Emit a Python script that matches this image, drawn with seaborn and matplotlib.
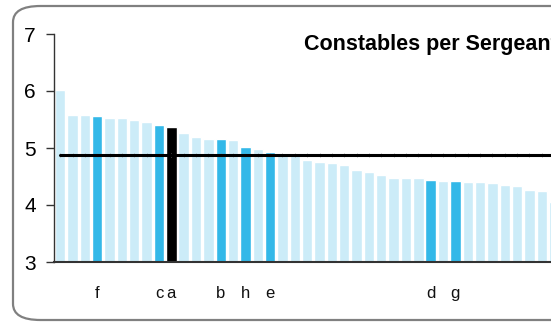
import numpy as np
import pandas as pd
import matplotlib.pyplot as plt
import seaborn as sns
from matplotlib.patches import FancyBboxPatch

# --- data ---
values = [6.02, 5.58, 5.58, 5.56, 5.53, 5.53, 5.50, 5.46, 5.40, 5.37,
          5.26, 5.19, 5.16, 5.16, 5.14, 5.02, 4.98, 4.93, 4.90, 4.89,
          4.79, 4.75, 4.74, 4.70, 4.61, 4.58, 4.53, 4.47, 4.47, 4.47,
          4.44, 4.42, 4.42, 4.40, 4.40, 4.39, 4.35, 4.33, 4.26, 4.25,
          4.05]
labels = ['', '', '', 'f', '', '', '', '', 'c', 'a',
          '', '', '', 'b', '', 'h', '', 'e', '', '',
          '', '', '', '', '', '', '', '', '', '',
          'd', '', 'g', '', '', '', '', '', '', '',
          '']
group = ['other'] * 41
for i in [3, 8, 13, 15, 17, 30, 32]:
    group[i] = 'highlight'
group[9] = 'selected'
average = 4.877
title = 'Constables per Sergeant'

df = pd.DataFrame({'pos': range(len(values)), 'value': values, 'group': group})
colors = {'other': '#CCECF8', 'highlight': '#33B8E8', 'selected': '#000000'}

sns.set_style('white')
plt.rcParams['font.family'] = ['Liberation Sans', 'DejaVu Sans']
plt.rcParams['text.color'] = 'black'

W, H = 551, 323
fig = plt.figure(figsize=(W / 100, H / 100), dpi=100)

# rounded frame, runs off the right edge like the original
frame = FancyBboxPatch((13 / W, 1 - 320 / H), 620 / W, 314 / H,
                       boxstyle='round,pad=0,rounding_size=0.05',
                       transform=fig.transFigure, facecolor='white',
                       edgecolor='#808080', linewidth=1.6, zorder=-1)
fig.patches.append(frame)

step = 12.35
ax = fig.add_axes([54 / W, 1 - 262 / H, len(values) * step / W, 228 / H])
ax.set_zorder(2)
ax.patch.set_alpha(0)

sns.barplot(data=df, x='pos', y='value', hue='group', palette=colors,
            saturation=1, dodge=False, width=0.84, legend=False, ax=ax,
            zorder=2)

# average line with faint marks at each bar
ax.plot(df['pos'], [average] * len(values), color='black', lw=2.2, zorder=3)
ax.plot(df['pos'], [average] * len(values), ls='none', marker='|',
        ms=3, mew=0.5, color='#999999', zorder=2.5)

ax.set_ylim(3, 7)
ax.set_xlim(-0.5, len(values) - 0.5)
ax.set_yticks([3, 4, 5, 6, 7])
ax.set_xticks(range(len(values)))
ax.set_xticklabels(labels)
ax.tick_params(axis='y', length=6, width=1, color='#333333', pad=7,
               labelsize=15, left=True, labelcolor='black')
ax.tick_params(axis='x', length=0, pad=17, labelsize=12, labelcolor='#111111')
ax.set_xlabel('')
ax.set_ylabel('')
for side in ['top', 'right']:
    ax.spines[side].set_visible(False)
ax.spines['left'].set_color('#333333')
ax.spines['left'].set_linewidth(1)
ax.spines['bottom'].set_color('#333333')
ax.spines['bottom'].set_linewidth(1.5)
ax.spines['bottom'].set_zorder(5)

fig.text(304 / W, 1 - 50 / H, title, fontsize=15.5, fontweight='bold',
         ha='left', va='baseline', color='black')

fig.savefig('out.png', dpi=100)
